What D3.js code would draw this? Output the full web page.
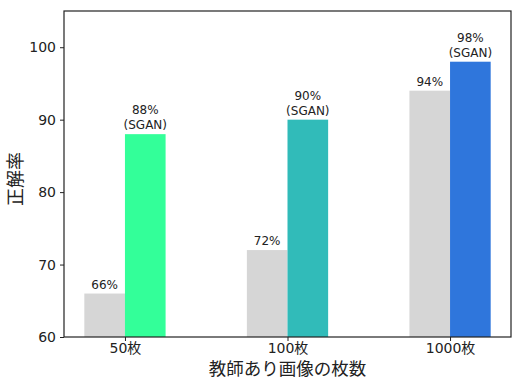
<!DOCTYPE html>
<html>
<head>
<meta charset="utf-8">
<script src="https://cdn.jsdelivr.net/npm/d3@7"></script>
<style>
  body { margin: 0; background: #fff; }
  text { font-family: "DejaVu Sans", "Noto Sans CJK JP", sans-serif; fill: #222; }
  .jp { font-family: "Noto Sans CJK JP", sans-serif; }
</style>
</head>
<body>
<div id="chartid"></div>
<script>
"use strict"

var categories = ["50枚", "100枚", "1000枚"];
var baseValues = [66, 72, 94];
var sganValues = [88, 90, 98];
var sganColors = ["#33ff99", "#31bbb9", "#2f76dc"];
var yTicks = [60, 70, 80, 90, 100];

function createChart(){
  var svg = d3.select("#chartid").append("svg")
    .attr("width", 521)
    .attr("height", 387);
  var margin = { top: 11, right: 10, bottom: 50, left: 64 },
    width = +svg.attr("width") - margin.left - margin.right,
    height = +svg.attr("height") - margin.top - margin.bottom;

  // bar centres at 0,1,2; bars 0.25 wide each side
  var barW = 0.25;
  var x = d3.scaleLinear()
    .domain([-0.375, categories.length - 1 + 0.375])
    .range([0, width]);

  var y = d3.scaleLinear()
    .domain([60, 105])
    .range([height, 0]);

  var g = svg.append("g")
    .attr("transform", "translate(" + margin.left + "," + margin.top + ")");

  // gray bars
  g.selectAll(".base").data(baseValues).enter().append("rect")
    .attr("x", function(d, i){ return x(i - barW); })
    .attr("width", function(){ return x(barW) - x(0); })
    .attr("y", function(d){ return y(d); })
    .attr("height", function(d){ return y(60) - y(d); })
    .attr("fill", "#d6d6d6");

  // SGAN bars
  g.selectAll(".sgan").data(sganValues).enter().append("rect")
    .attr("x", function(d, i){ return x(i); })
    .attr("width", function(){ return x(barW) - x(0); })
    .attr("y", function(d){ return y(d); })
    .attr("height", function(d){ return y(60) - y(d); })
    .attr("fill", function(d, i){ return sganColors[i]; });

  g.selectAll(".baseLbl").data(baseValues).enter().append("text")
    .attr("x", function(d, i){ return x(i - barW / 2); })
    .attr("y", function(d){ return y(d) - 5; })
    .attr("text-anchor", "middle")
    .attr("font-size", 12)
    .text(function(d){ return d + "%"; });

  var lbl = g.selectAll(".sganLbl").data(sganValues).enter().append("text")
    .attr("text-anchor", "middle")
    .attr("font-size", 12);
  lbl.append("tspan")
    .attr("x", function(d, i){ return x(i + barW / 2); })
    .attr("y", function(d){ return y(d) - 20; })
    .text(function(d){ return d + "%"; });
  lbl.append("tspan")
    .attr("x", function(d, i){ return x(i + barW / 2); })
    .attr("y", function(d){ return y(d) - 5; })
    .text("(SGAN)");

  // frame
  g.append("rect")
    .attr("width", width)
    .attr("height", height)
    .attr("fill", "none")
    .attr("stroke", "#222")
    .attr("stroke-width", 1.2);

  var y_axis = d3.axisLeft(y).tickValues(yTicks).tickSize(4).tickPadding(4);
  var ya = g.append("g").call(y_axis);
  ya.select(".domain").remove();
  ya.selectAll("text").attr("font-size", 14).attr("fill", "#222")
    .style("font-family", "DejaVu Sans, sans-serif");
  ya.selectAll("line").attr("stroke", "#222");

  var x_axis = d3.axisBottom(x)
    .tickValues(d3.range(categories.length))
    .tickFormat(function(d){ return categories[d]; })
    .tickSize(4).tickPadding(2);
  var xa = g.append("g").attr("transform", "translate(0," + height + ")").call(x_axis);
  xa.select(".domain").remove();
  xa.selectAll("text").attr("font-size", 14).attr("fill", "#222")
    .style("font-family", "DejaVu Sans, Noto Sans CJK JP, sans-serif");
  xa.selectAll("line").attr("stroke", "#222");

  g.append("text")
    .attr("class", "jp")
    .attr("x", width / 2)
    .attr("y", height + 38)
    .attr("text-anchor", "middle")
    .attr("font-size", 17.5)
    .text("教師あり画像の枚数");

  g.append("text")
    .attr("class", "jp")
    .attr("transform", "translate(" + (-42) + "," + (168) + ") rotate(-90)")
    .attr("text-anchor", "middle")
    .attr("font-size", 18)
    .text("正解率");
}

createChart();
</script>
</body>
</html>
